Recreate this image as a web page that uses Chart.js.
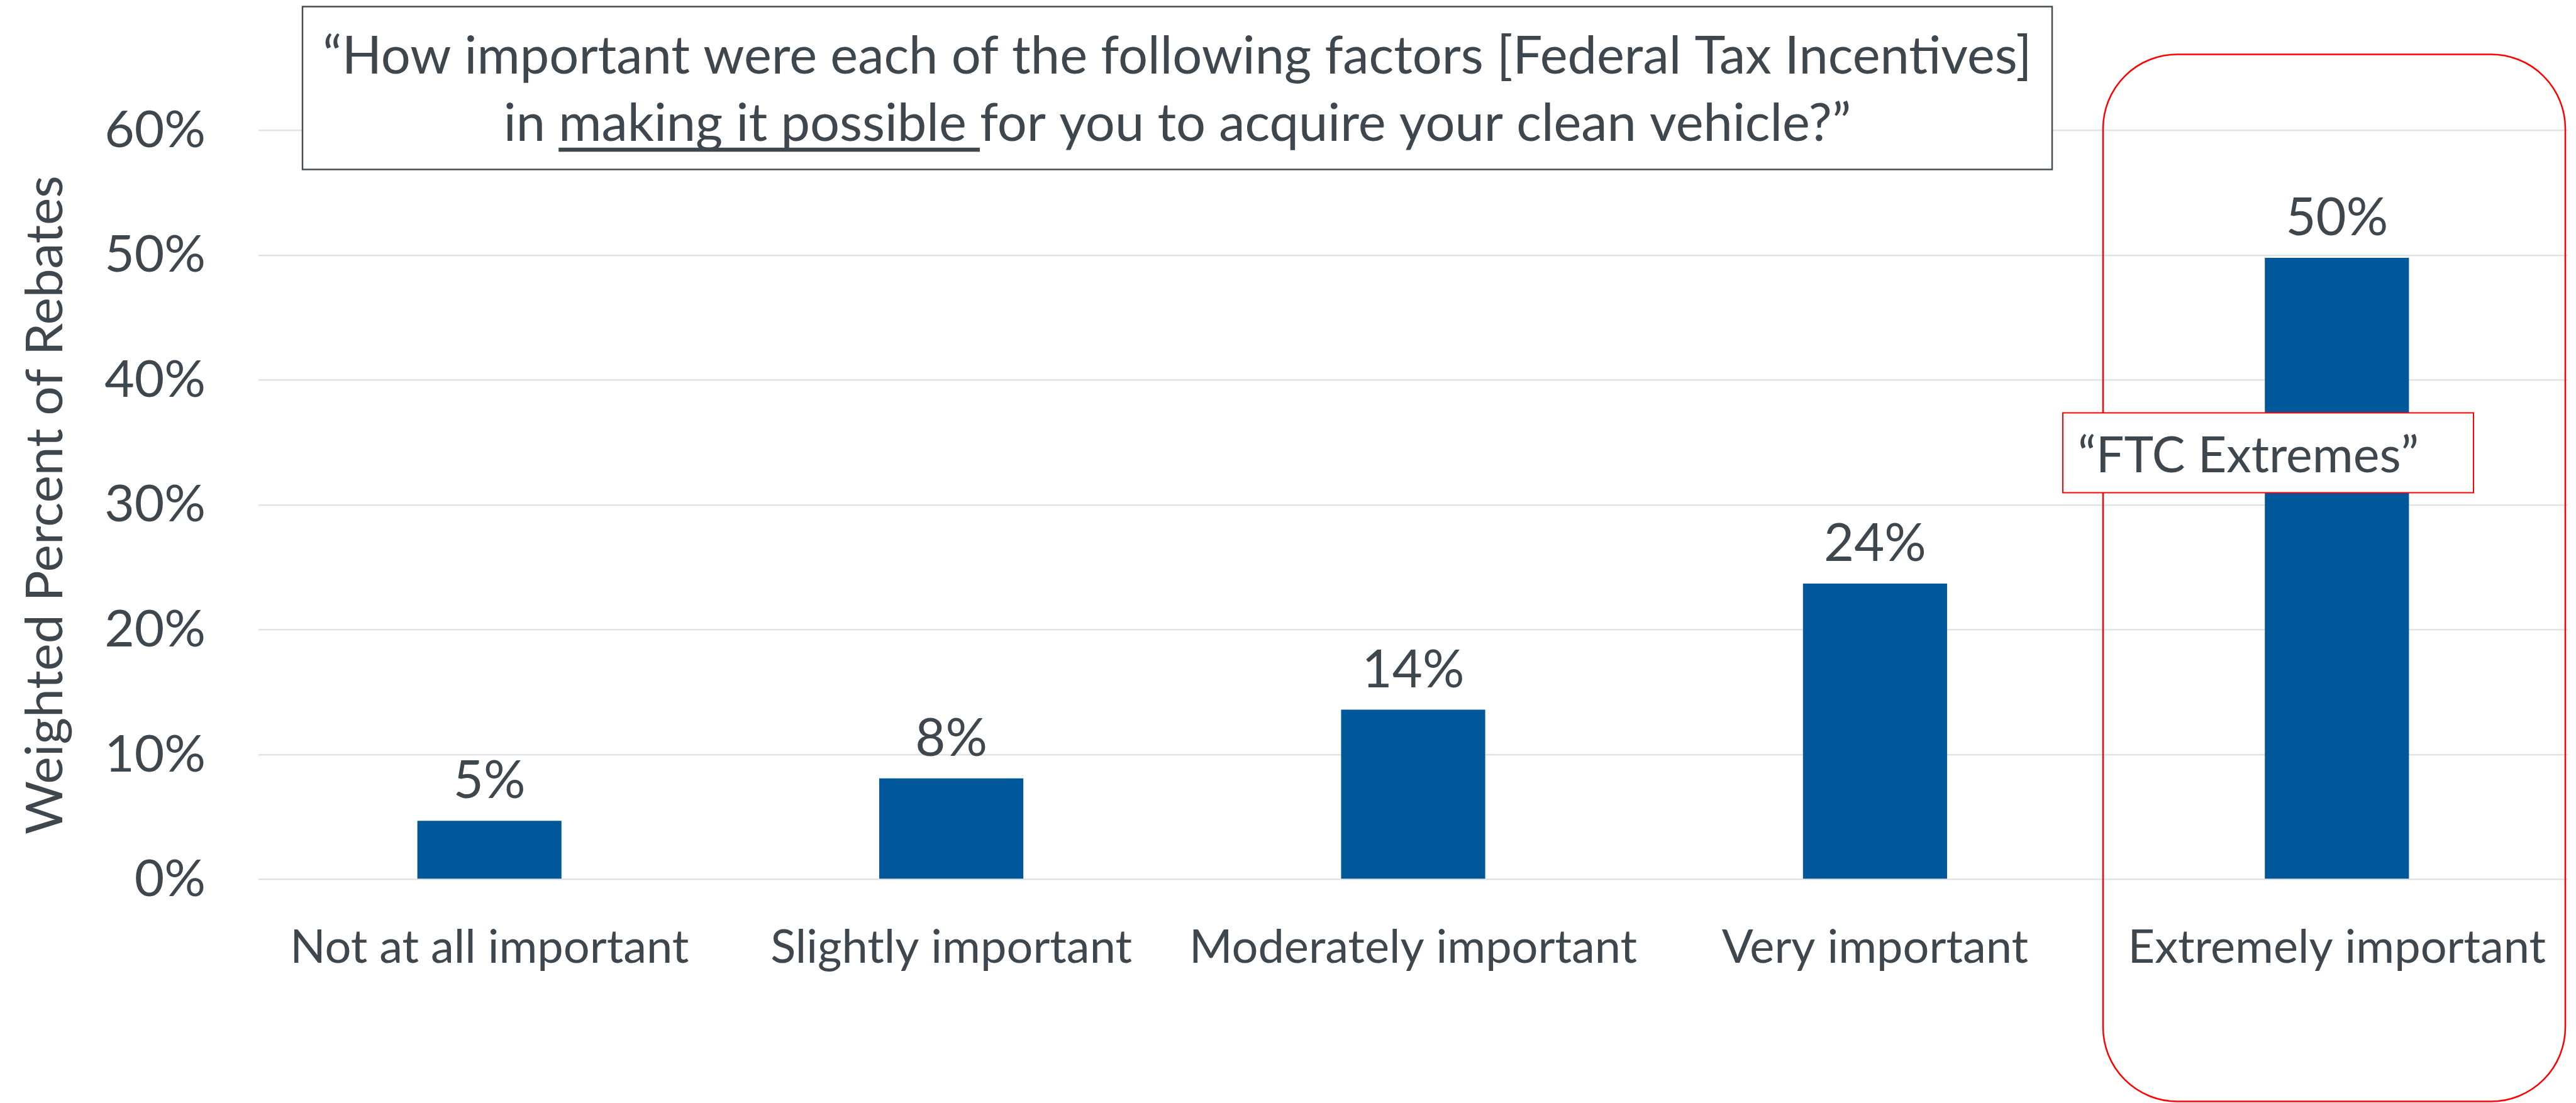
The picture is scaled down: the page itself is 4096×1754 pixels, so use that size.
<!DOCTYPE html>
<html>
<head>
<meta charset="utf-8">
<title>Federal Tax Incentives – importance</title>
<script src="https://cdn.jsdelivr.net/npm/chart.js@4.4.1/dist/chart.umd.min.js"></script>
<style>
  html, body { margin: 0; padding: 0; background: #ffffff; overflow: hidden; }
  #wrap { width: 4096px; height: 1754px; position: relative; }
</style>
</head>
<body>
<div id="wrap"><canvas id="chart" width="4096" height="1754"></canvas></div>
<script>
// ---- data ----
const categories = [
  'Not at all important',
  'Slightly important',
  'Moderately important',
  'Very important',
  'Extremely important'
];
const weightedPercent = [4.7, 8.1, 13.6, 23.7, 49.8];
const yTickValues = [0, 10, 20, 30, 40, 50, 60];

// ---- text ----
const yAxisTitle = 'Weighted Percent of Rebates';
const questionLine1 = '\u201CHow important were each of the following factors [Federal Tax Incentives]';
const questionLine2Lead = 'in ';
const questionLine2Underlined = 'making it possible ';
const questionLine2Tail = 'for you to acquire your clean vehicle?\u201D';
const calloutText = '\u201CFTC Extremes\u201D';

// ---- styles ----
const FONT = 'Lato, "Open Sans", sans-serif';
const TEXT_COLOR = '#3E464E';
const BAR_COLOR = '#00589A';
const GRID_COLOR = '#E1E3E6';
const RED = '#FF0000';
const BOX_BORDER = '#474D54';

// ---- layout (canvas pixels) ----
const PLOT_TOP = 207.5;
const PLOT_BOTTOM = 1398.6;
const PLOT_LEFT = 411;
const PLOT_RIGHT = 4083;
const CANVAS_W = 4096;
const CANVAS_H = 1754;

const questionBox = { x: 481, y: 10.5, w: 2782, h: 259, line1Base: 117.4, line2Base: 224.4, size: 83 };
const highlightBox = { x: 3344, y: 86.5, w: 735, h: 1665, r: 118 };
const calloutBox = { x: 3280, y: 656.5, w: 653, h: 127, textX: 3304, textBase: 751, size: 79 };

// value labels above each bar
const valueLabelPlugin = {
  id: 'valueLabels',
  afterDatasetsDraw(chart) {
    const ctx = chart.ctx;
    const meta = chart.getDatasetMeta(0);
    ctx.save();
    ctx.font = '83px ' + FONT;
    ctx.fillStyle = TEXT_COLOR;
    ctx.textAlign = 'center';
    ctx.textBaseline = 'alphabetic';
    meta.data.forEach((bar, i) => {
      ctx.fillText(Math.round(weightedPercent[i]) + '%', bar.x, bar.y - 36);
    });
    ctx.restore();
  }
};

// highlight frame, callout and question box
const annotationPlugin = {
  id: 'annotations',
  afterDraw(chart) {
    const ctx = chart.ctx;
    ctx.save();

    // rounded frame around the last category
    ctx.beginPath();
    ctx.roundRect(highlightBox.x, highlightBox.y, highlightBox.w, highlightBox.h, highlightBox.r);
    ctx.lineWidth = 2.5;
    ctx.strokeStyle = RED;
    ctx.stroke();

    // callout box
    ctx.fillStyle = '#ffffff';
    ctx.fillRect(calloutBox.x, calloutBox.y, calloutBox.w, calloutBox.h);
    ctx.lineWidth = 2;
    ctx.strokeStyle = RED;
    ctx.strokeRect(calloutBox.x, calloutBox.y, calloutBox.w, calloutBox.h);
    ctx.font = calloutBox.size + 'px ' + FONT;
    ctx.fillStyle = TEXT_COLOR;
    ctx.textAlign = 'left';
    ctx.textBaseline = 'alphabetic';
    ctx.fillText(calloutText, calloutBox.textX, calloutBox.textBase);

    // survey question box
    ctx.fillStyle = '#ffffff';
    ctx.fillRect(questionBox.x, questionBox.y, questionBox.w, questionBox.h);
    ctx.lineWidth = 2.5;
    ctx.strokeStyle = BOX_BORDER;
    ctx.strokeRect(questionBox.x, questionBox.y, questionBox.w, questionBox.h);

    const cx = questionBox.x + questionBox.w / 2;
    ctx.font = questionBox.size + 'px ' + FONT;
    ctx.fillStyle = TEXT_COLOR;
    ctx.textAlign = 'center';
    ctx.fillText(questionLine1, cx, questionBox.line1Base);

    const wLead = ctx.measureText(questionLine2Lead).width;
    const wUnder = ctx.measureText(questionLine2Underlined).width;
    const wTail = ctx.measureText(questionLine2Tail).width;
    let x = cx - (wLead + wUnder + wTail) / 2;
    ctx.textAlign = 'left';
    ctx.fillText(questionLine2Lead, x, questionBox.line2Base);
    x += wLead;
    ctx.fillText(questionLine2Underlined, x, questionBox.line2Base);
    ctx.fillRect(x, questionBox.line2Base + 10.4, wUnder, 6.5);
    x += wUnder;
    ctx.fillText(questionLine2Tail, x, questionBox.line2Base);

    ctx.restore();
  }
};

Chart.defaults.font.family = FONT;
Chart.defaults.color = TEXT_COLOR;

new Chart(document.getElementById('chart'), {
  type: 'bar',
  data: {
    labels: categories,
    datasets: [{
      data: weightedPercent,
      backgroundColor: BAR_COLOR,
      borderWidth: 0,
      categoryPercentage: 0.312,
      barPercentage: 1.0
    }]
  },
  options: {
    responsive: false,
    animation: false,
    devicePixelRatio: 1,
    layout: {
      padding: { top: PLOT_TOP, right: CANVAS_W - PLOT_RIGHT, bottom: 0, left: 0 }
    },
    plugins: {
      legend: { display: false },
      tooltip: { enabled: false },
      title: { display: false }
    },
    scales: {
      x: {
        grid: { display: false, drawTicks: false },
        border: { display: false },
        ticks: {
          font: { size: 74, family: FONT },
          color: TEXT_COLOR,
          padding: 64,
          maxRotation: 0,
          autoSkip: false
        },
        afterFit(scale) {
          scale.height = CANVAS_H - PLOT_BOTTOM;
          // labels sit inside their category bands, keep the plot width fixed
          scale.paddingLeft = 0;
          scale.paddingRight = 0;
        }
      },
      y: {
        min: 0,
        max: 60,
        grid: { color: GRID_COLOR, lineWidth: 2.5, drawTicks: false },
        border: { display: false },
        afterBuildTicks(scale) { scale.ticks = yTickValues.map(v => ({ value: v })); },
        ticks: {
          font: { size: 82, family: FONT },
          color: TEXT_COLOR,
          padding: 84,
          callback: v => v + '%'
        },
        title: {
          display: true,
          text: yAxisTitle,
          font: { size: 82, family: FONT, lineHeight: 1 },
          color: TEXT_COLOR,
          padding: { top: 32, bottom: 0 }
        },
        afterFit(scale) { scale.width = PLOT_LEFT; }
      }
    }
  },
  plugins: [valueLabelPlugin, annotationPlugin]
});
</script>
</body>
</html>
